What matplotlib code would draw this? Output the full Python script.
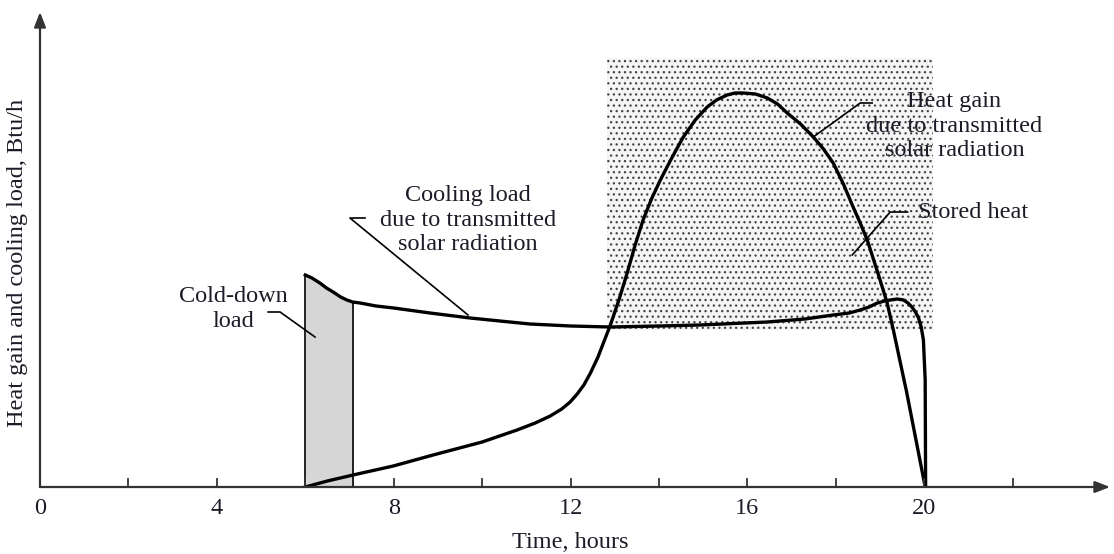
import numpy as np
import matplotlib
matplotlib.use("Agg")
import matplotlib.pyplot as plt
from matplotlib.patches import Rectangle

plt.rcParams['font.family'] = ['Liberation Serif', 'DejaVu Serif']
plt.rcParams['hatch.linewidth'] = 0.9

# heat gain due to transmitted solar radiation (hours, relative load)
gain_t = [6.0, 6.5, 7.08, 7.99, 8.89, 10.0, 10.79, 11.2, 11.54, 11.8, 11.99, 12.15, 12.3, 12.45,
          12.62, 12.76, 12.9, 13.1, 13.28, 13.46, 13.64, 13.83, 14.03, 14.3, 14.55, 14.82, 15.09,
          15.3, 15.54, 15.72, 15.9, 16.18, 16.45, 16.68, 16.9, 17.2, 17.49, 17.72, 17.94, 18.17,
          18.39, 18.55, 18.71, 19.0, 19.16, 19.3, 19.6, 20.02]
gain_q = [0, 6, 12, 21, 32, 45, 57, 64, 71, 78, 85, 93, 102, 114,
          130, 146, 162, 188, 214, 242, 267, 288, 307, 330, 350, 367, 380,
          387, 392, 394, 394, 393, 389, 383, 374, 363, 350, 338, 324, 303,
          280, 264, 247, 207, 184, 157, 95, 0]

# cooling load due to transmitted solar radiation
cool_t = [6.0, 6.15, 6.33, 6.48, 6.63, 6.8, 6.94, 7.07, 7.24, 7.6, 8.0, 8.82, 9.73, 10.4,
          11.08, 12.0, 12.9, 14.0, 14.93, 16.45, 17.3, 17.94, 18.3, 18.55, 18.75, 18.94, 19.1,
          19.23, 19.39, 19.53, 19.63, 19.72, 19.8, 19.87, 19.93, 19.98, 20.02, 20.03]
cool_q = [212, 209, 204, 199, 195, 190, 187, 185, 184, 181, 179, 174, 169, 166,
          163, 161, 160, 161, 162, 165, 168, 172, 174, 177, 180, 184, 186,
          187, 188, 187, 184, 180, 175, 169, 160, 147, 107, 0]

# cold-down period
cold_start, cold_end = 6.0, 7.07

xticks = [2, 4, 6, 8, 10, 12, 14, 16, 18, 20, 22]
xlabels = ['0', '4', '8', '12', '16', '20']
xlabel_pos = [0, 4, 8, 12, 16, 20]

fig = plt.figure(figsize=(11.14, 5.54), dpi=100)
ax = fig.add_axes([40 / 1114, 67 / 554, 1070 / 1114, 475 / 554])
ax.set_xlim(0, 24.2)
ax.set_ylim(0, 475)
ax.axis('off')

txt = '#1c1c28'
fs = 17.5

# stored heat region (stippled)
ax.add_patch(Rectangle((12.83, 157), 20.2 - 12.83, 429 - 157, facecolor='#f5f5f5',
                       edgecolor='#454545', hatch='...', lw=0, zorder=1))

# cold-down shaded area
ct = np.array(cool_t)
cq = np.array(cool_q)
m = (ct >= cold_start) & (ct <= cold_end)
ax.fill_between(ct[m], 0, cq[m], color='#d6d6d6', lw=0, zorder=2)
ax.plot([cold_start, cold_start], [0, cq[m][0]], color='black', lw=1.2, zorder=3)
ax.plot([cold_end, cold_end], [0, cq[m][-1]], color='black', lw=1.2, zorder=3)

ax.plot(gain_t, gain_q, color='black', lw=2.4, zorder=4, solid_joinstyle='round')
ax.plot(cool_t, cool_q, color='black', lw=2.4, zorder=4, solid_joinstyle='round')

# axes with arrows
arrow = dict(arrowstyle='-|>,head_length=0.9,head_width=0.35', color='#333333',
             lw=1.6, shrinkA=0, shrinkB=0)
ax.annotate('', xy=(24.2, 0), xytext=(0, 0), annotation_clip=False, arrowprops=arrow, zorder=5)
ax.annotate('', xy=(0, 475), xytext=(0, 0), annotation_clip=False, arrowprops=arrow, zorder=5)
for t in xticks:
    ax.plot([t, t], [0, 8], color='#333333', lw=1.3, zorder=5)
for p, l in zip(xlabel_pos, xlabels):
    ax.text(p, -21, l, ha='center', va='center', fontsize=fs, color=txt)

ax.text(12.0, -56, 'Time, hours', ha='center', va='center', fontsize=fs, color=txt)
ax.text(-0.5, 224, 'Heat gain and cooling load, Btu/h', rotation=90, ha='center',
        va='center', fontsize=fs, color=txt)

# annotations
lbl = dict(ha='center', va='center', fontsize=fs, color=txt, linespacing=1.25, zorder=6)
ax.text(9.68, 267, 'Cooling load\ndue to transmitted\nsolar radiation', **lbl)
ax.plot([7.35, 7.01, 9.68], [269, 269, 172], color='black', lw=1.2, zorder=6)

ax.text(4.37, 178, 'Cold-down\nload', **lbl)
ax.plot([5.16, 5.43, 6.22], [175, 175, 150], color='black', lw=1.2, zorder=6)

ax.text(20.68, 361, 'Heat gain\ndue to transmitted\nsolar radiation', **lbl)
ax.plot([18.82, 18.55, 17.49], [384, 384, 350], color='black', lw=1.2, zorder=6)

ax.text(21.1, 274, 'Stored heat', **lbl)
ax.plot([19.62, 19.23, 18.37], [275, 275, 232], color='black', lw=1.2, zorder=6)

fig.savefig('out.png', dpi=100)
